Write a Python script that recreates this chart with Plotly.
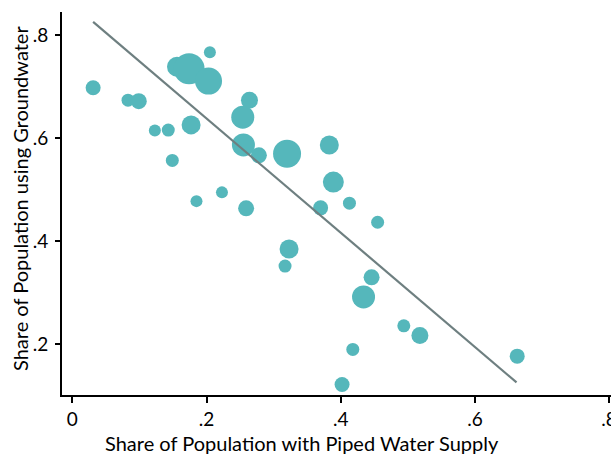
import plotly.graph_objects as go

# Share of population with piped water supply (x), using groundwater (y), marker size ~ population weight
piped = [0.031, 0.083, 0.099, 0.123, 0.143, 0.177, 0.205, 0.156, 0.174, 0.203,
         0.149, 0.185, 0.223, 0.259, 0.264, 0.254, 0.255, 0.278, 0.320, 0.383,
         0.389, 0.413, 0.370, 0.455, 0.323, 0.317, 0.446, 0.434, 0.494, 0.518,
         0.418, 0.402, 0.663]
groundwater = [0.698, 0.674, 0.672, 0.615, 0.616, 0.626, 0.767, 0.739, 0.735, 0.711,
               0.557, 0.478, 0.495, 0.464, 0.674, 0.641, 0.587, 0.567, 0.570, 0.587,
               0.515, 0.474, 0.465, 0.437, 0.385, 0.352, 0.330, 0.292, 0.236, 0.217,
               0.190, 0.122, 0.177]
weight = [15, 13, 16, 12, 13, 19, 12, 20, 31, 27,
          13, 12, 12, 16, 17, 23, 23, 16, 28, 19,
          21, 13, 15, 13, 19, 13, 16, 23, 13, 17,
          13, 15, 15]

fit_x = [0.031, 0.662]
fit_y = [0.826, 0.126]

x_ticks = [0, 0.2, 0.4, 0.6, 0.8]
x_tick_labels = ["0", ".2", ".4", ".6", ".8"]
y_ticks = [0.2, 0.4, 0.6, 0.8]
y_tick_labels = [".2", ".4", ".6", ".8"]

FONT = "Lato, 'Open Sans', sans-serif"

fig = go.Figure()
fig.add_trace(go.Scatter(
    x=piped, y=groundwater, mode="markers",
    marker=dict(size=weight, color="#55B7BB", line=dict(width=0), opacity=1),
    showlegend=False,
))
fig.add_trace(go.Scatter(
    x=fit_x, y=fit_y, mode="lines",
    line=dict(color="#6E7F80", width=2.2),
    showlegend=False,
))

fig.update_layout(
    width=611, height=454,
    margin=dict(l=62, r=0, t=12, b=59),
    paper_bgcolor="white", plot_bgcolor="white",
    font=dict(family=FONT, size=20, color="black"),
    xaxis=dict(
        range=[-0.0154, 0.8028], tickvals=x_ticks, ticktext=x_tick_labels,
        showgrid=False, zeroline=False, showline=True, linecolor="black", linewidth=2,
        ticks="outside", ticklen=6, tickwidth=1.5, tickcolor="black",
        tickfont=dict(size=19), automargin=False, ticklabeloverflow="allow",
    ),
    yaxis=dict(
        range=[0.1016, 0.8452], tickvals=y_ticks, ticktext=y_tick_labels,
        showgrid=False, zeroline=False, showline=True, linecolor="black", linewidth=2,
        ticks="outside", ticklen=5, tickwidth=1.5, tickcolor="black",
        tickfont=dict(size=19), automargin=False, ticklabelstandoff=3,
    ),
    annotations=[
        dict(text="Share of Population with Piped Water Supply", xref="paper", yref="paper",
             x=(302 - 62) / 549, y=-(443 - 395) / 383, xanchor="center", yanchor="middle",
             showarrow=False, font=dict(size=20)),
        dict(text="Share of Population using Groundwater", xref="paper", yref="paper",
             x=-(62 - 20) / 549, y=(395 - 199) / 383, xanchor="center", yanchor="middle",
             textangle=-90, showarrow=False, font=dict(size=20)),
    ],
)

fig.write_html("out.html", config={"displayModeBar": False},
               post_script="document.body.style.margin='0';document.body.style.overflow='hidden';")
